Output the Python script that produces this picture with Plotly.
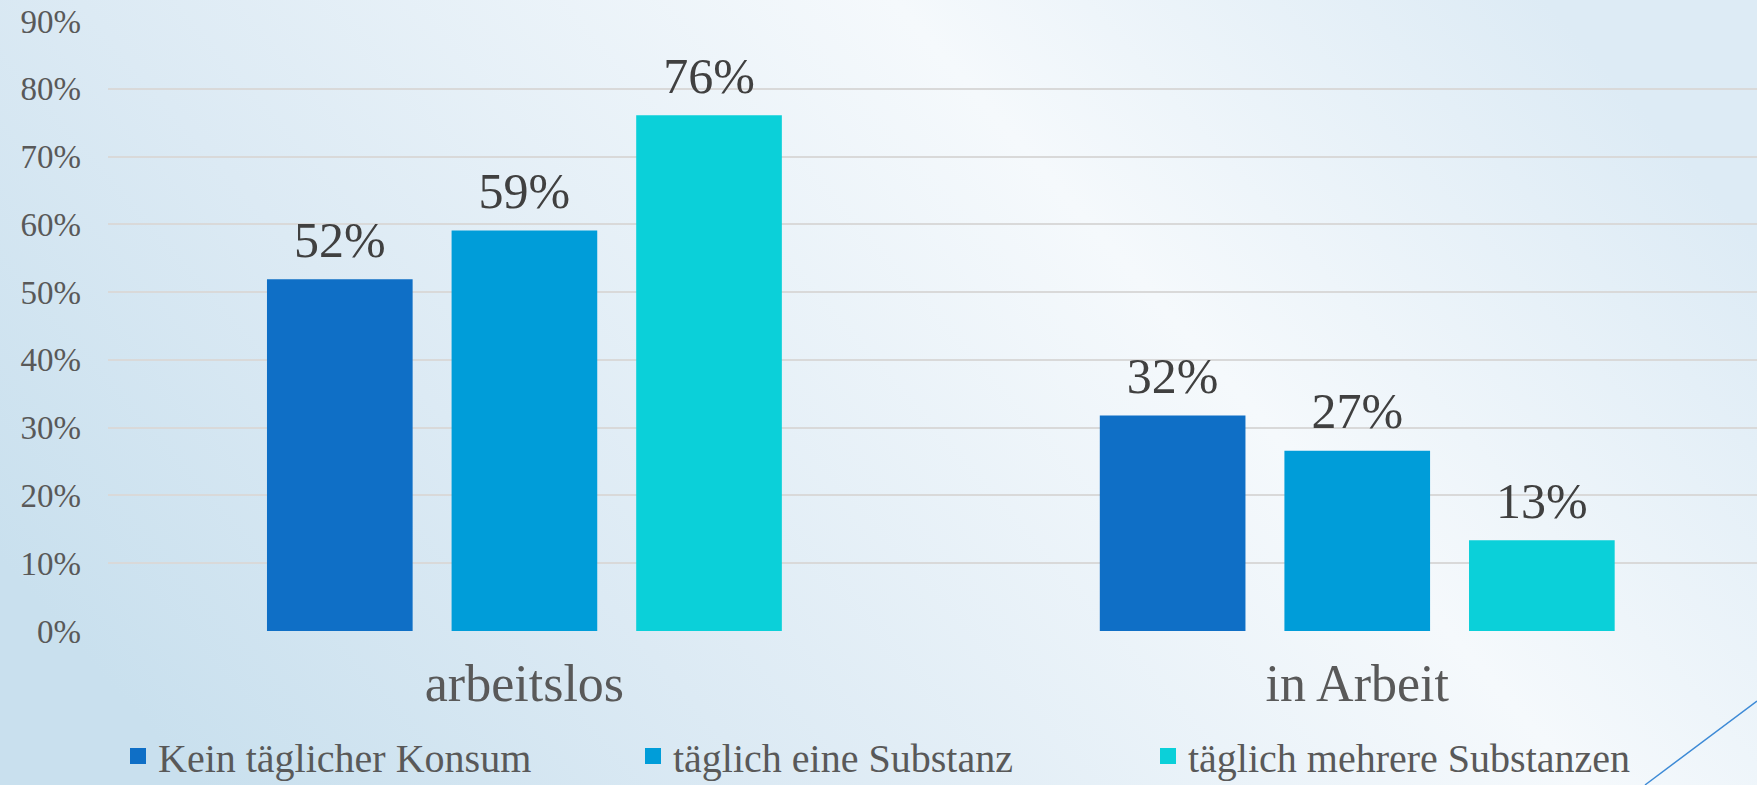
import base64
import plotly.graph_objects as go

categories = ["arbeitslos", "in Arbeit"]
series_names = ["Kein täglicher Konsum", "täglich eine Substanz", "täglich mehrere Substanzen"]
kein_taeglich = [0.519, 0.318]
eine_substanz = [0.591, 0.266]
mehrere_substanzen = [0.761, 0.134]
series_values = [kein_taeglich, eine_substanz, mehrere_substanzen]
series_colors = ["#0F6FC6", "#009DD9", "#0BD0D9"]
y_ticks = [0, 0.1, 0.2, 0.3, 0.4, 0.5, 0.6, 0.7, 0.8, 0.9]
y_ticklabels = ["0%", "10%", "20%", "30%", "40%", "50%", "60%", "70%", "80%", "90%"]

W, H = 1757, 800          # slightly taller than the 785 px window (bottom overflow hidden)
ML, MR, MT = 108, 0, 21
PLOT_BOTTOM = 631
MB = H - PLOT_BOTTOM
PW, PH = W - ML - MR, H - MT - MB

FONT = "Georgia, 'Liberation Serif', serif"
BARGAP = 0.335

def py(ypix):
    return (PLOT_BOTTOM - ypix) / PH

def px(xpix):
    return (xpix - ML) / PW

fig = go.Figure()
for i, (name, vals, col) in enumerate(zip(series_names, series_values, series_colors)):
    fig.add_trace(go.Bar(
        x=categories, y=vals, name=name, offsetgroup=str(i), legendgroup=str(i),
        marker=dict(color=col, line=dict(width=0)),
        showlegend=False, hoverinfo="skip",
    ))
for i, vals in enumerate(series_values):
    fig.add_trace(go.Scatter(
        x=categories, y=vals, mode="markers+text", offsetgroup=str(i), legendgroup=str(i),
        text=[f"{round(v * 100):.0f}%" for v in vals],
        textposition="top center",
        textfont=dict(family=FONT, size=50, color="#404040"),
        marker=dict(size=14, opacity=0),
        cliponaxis=False, showlegend=False, hoverinfo="skip",
    ))
for i, (name, col) in enumerate(zip(series_names, series_colors)):
    fig.add_trace(go.Scatter(
        x=[None], y=[None], mode="markers", name=name,
        offsetgroup=str(i), legendgroup=str(i),
        marker=dict(symbol="square", size=18, color=col),
        showlegend=True, hoverinfo="skip",
    ))

svg = (
    f'<svg xmlns="http://www.w3.org/2000/svg" width="{W}" height="{H}" viewBox="0 0 {W} {H}" preserveAspectRatio="none">'
    '<defs><linearGradient id="g" x1="0" y1="0.7" x2="1" y2="0.3">'
    '<stop offset="0" stop-color="#c9e0ee"/>'
    '<stop offset="0.28" stop-color="#dceaf4"/>'
    '<stop offset="0.68" stop-color="#f5f9fc"/>'
    '<stop offset="1" stop-color="#ddebf5"/>'
    '</linearGradient></defs>'
    f'<rect x="0" y="0" width="{W}" height="{H}" fill="url(#g)"/></svg>'
)
src = "data:image/svg+xml;base64," + base64.b64encode(svg.encode()).decode()

fig.update_layout(
    width=W, height=H,
    margin=dict(l=ML, r=MR, t=MT, b=MB, pad=0),
    paper_bgcolor="#e6f0f7",
    plot_bgcolor="rgba(0,0,0,0)",
    barmode="group",
    bargap=BARGAP,
    bargroupgap=0.211,
    scattermode="group",
    scattergap=BARGAP,
    images=[dict(
        source=src, xref="paper", yref="paper",
        x=px(0), y=py(0), sizex=W / PW, sizey=H / PH,
        xanchor="left", yanchor="top", sizing="stretch", layer="below",
    )],
    xaxis=dict(
        range=[-0.5, 1.48],
        showgrid=False, zeroline=False, showline=False,
        tickfont=dict(family=FONT, size=52, color="#595959"),
        ticks="", ticklabelstandoff=17,
    ),
    yaxis=dict(
        range=[0, 0.9],
        tickvals=y_ticks, ticktext=y_ticklabels,
        showgrid=True, gridcolor="#d9d9d9", gridwidth=1.5,
        zeroline=False, showline=False,
        tickfont=dict(family=FONT, size=33, color="#595959"),
        ticks="", ticklabelstandoff=26,
    ),
    legend=dict(
        orientation="h", x=px(118), xanchor="left", y=py(756), yanchor="middle",
        font=dict(family=FONT, size=40, color="#595959"),
        bgcolor="rgba(0,0,0,0)", entrywidth=470, entrywidthmode="pixels",
        traceorder="normal", itemsizing="trace",
    ),
    shapes=[dict(
        type="line", xref="paper", yref="paper",
        x0=px(1645), y0=py(785), x1=px(1757), y1=py(701),
        line=dict(color="#3d8ad6", width=1.5),
    )],
    showlegend=True,
)

fig.write_html(
    "out.html",
    config={"displayModeBar": False},
    post_script="document.body.style.margin='0';document.body.style.overflow='hidden';",
)
